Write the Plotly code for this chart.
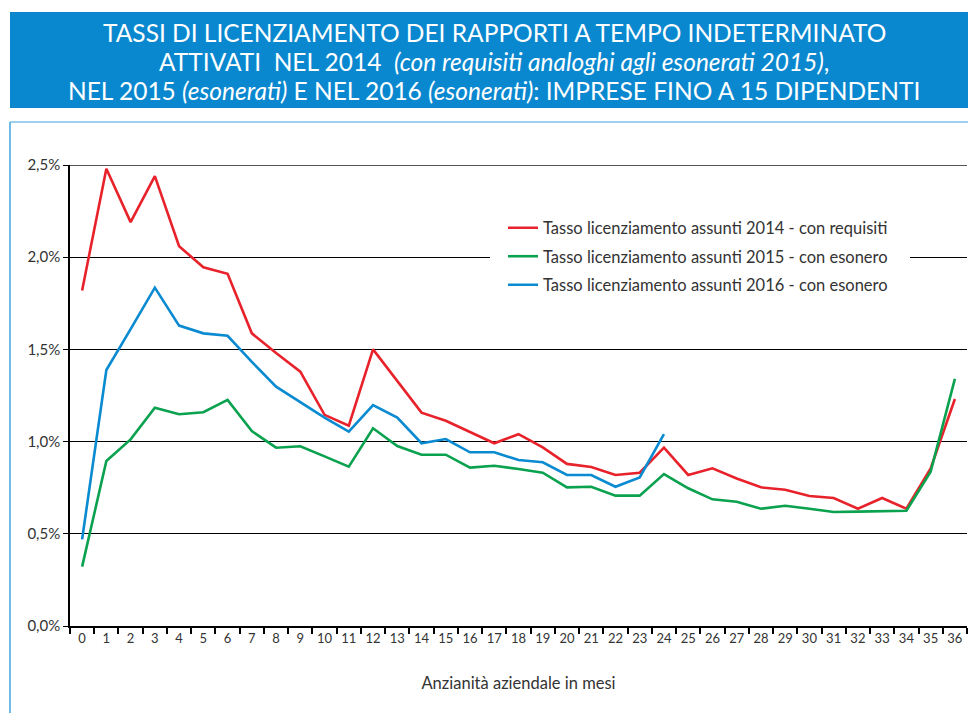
import plotly.graph_objects as go

months = [str(i) for i in range(37)]

tasso_2014 = [1.82, 2.48, 2.19, 2.44, 2.06, 1.945, 1.91, 1.587, 1.48, 1.379, 1.145, 1.086,
              1.50, 1.33, 1.157, 1.113, 1.054, 0.991, 1.04, 0.969, 0.879, 0.862, 0.819, 0.831,
              0.967, 0.819, 0.855, 0.80, 0.752, 0.739, 0.705, 0.694, 0.636, 0.694, 0.636, 0.855, 1.231]

tasso_2015 = [0.322, 0.895, 1.012, 1.184, 1.148, 1.159, 1.226, 1.057, 0.967, 0.975, 0.92, 0.864,
              1.072, 0.976, 0.929, 0.929, 0.859, 0.869, 0.851, 0.831, 0.752, 0.755, 0.707, 0.707,
              0.824, 0.747, 0.687, 0.674, 0.636, 0.652, 0.636, 0.618, 0.62, 0.622, 0.625, 0.837, 1.34]

tasso_2016 = [0.47, 1.388, 1.61, 1.835, 1.629, 1.587, 1.574, 1.432, 1.298, 1.215, 1.13, 1.054,
              1.198, 1.13, 0.991, 1.014, 0.942, 0.942, 0.90, 0.888, 0.819, 0.819, 0.755, 0.806, 1.04]

series_names = ["Tasso licenziamento assunti 2014 - con requisiti",
                "Tasso licenziamento assunti 2015 - con esonero",
                "Tasso licenziamento assunti 2016 - con esonero"]
colors = ["#E8222B", "#0AA14F", "#0A8AD1"]

y_ticks = [0, 0.5, 1.0, 1.5, 2.0, 2.5]
y_ticktext = [f"{v:.1f}%".replace(".", ",") for v in y_ticks]

FONT = "Lato"
OFF = 8  # page body margin
W, H = 976 - OFF, 713 - OFF
L, R, T, B = 70 - OFF, 9, 165 - OFF, 87
PW, PH = W - L - R, H - T - B


def px_x(px):
    return (px - OFF - L) / PW


def px_y(py):
    return (H - B - (py - OFF)) / PH


legend_ids = ["legend", "legend2", "legend3"]
legend_rows = [228, 256.5, 285]

fig = go.Figure()
for name, vals, col, lid in zip(series_names, [tasso_2014, tasso_2015, tasso_2016], colors, legend_ids):
    fig.add_trace(go.Scatter(x=months[:len(vals)], y=vals, name=name, mode="lines",
                             line=dict(color=col, width=2.6), legend=lid))

title_lines = [
    "TASSI DI LICENZIAMENTO DEI RAPPORTI A TEMPO INDETERMINATO",
    "ATTIVATI  NEL 2014  <i>(con requisiti analoghi agli esonerati 2015)</i>,",
    "NEL 2015 <i>(esonerati)</i> E NEL 2016 <i>(esonerati)</i>: IMPRESE FINO A 15 DIPENDENTI",
]
title_y = [32, 61, 90]

shapes = [
    dict(type="rect", xref="paper", yref="paper", x0=px_x(10), x1=px_x(990), y0=px_y(108), y1=px_y(12),
         fillcolor="#0A88CF", line=dict(width=0), layer="below"),
    dict(type="line", xref="paper", yref="paper", x0=px_x(10), x1=px_x(990), y0=px_y(122), y1=px_y(122),
         line=dict(color="#7CC3EA", width=1.5)),
    dict(type="line", xref="paper", yref="paper", x0=px_x(10), x1=px_x(10), y0=px_y(122), y1=px_y(720),
         line=dict(color="#3FA6DF", width=1.5)),
    dict(type="line", xref="paper", yref="y", x0=0, x1=1, y0=2.5, y1=2.5,
         line=dict(color="#555555", width=2)),
    dict(type="rect", xref="paper", yref="paper", x0=px_x(490), x1=px_x(910), y0=px_y(272), y1=px_y(242),
         fillcolor="white", line=dict(width=0), layer="above"),
]

annotations = []
for txt, ty in zip(title_lines, title_y):
    annotations.append(dict(text=txt, xref="paper", yref="paper", x=px_x(494), y=px_y(ty),
                            xanchor="center", yanchor="middle", showarrow=False,
                            font=dict(family=FONT, size=24.5, color="white")))

legend_common = dict(xanchor="left", yanchor="middle", bgcolor="rgba(255,255,255,0)", borderwidth=0,
                     font=dict(family=FONT, size=16.5, color="#333333"), itemwidth=30)

fig.update_layout(
    width=W, height=H,
    margin=dict(l=L, r=R, t=T, b=B),
    paper_bgcolor="white", plot_bgcolor="white",
    font=dict(family=FONT, color="#333333", size=13),
    shapes=shapes,
    annotations=annotations,
    showlegend=True,
    legend=dict(x=px_x(503), y=px_y(legend_rows[0]), **legend_common),
    legend2=dict(x=px_x(503), y=px_y(legend_rows[1]), **legend_common),
    legend3=dict(x=px_x(503), y=px_y(legend_rows[2]), **legend_common),
    xaxis=dict(type="category", tickson="boundaries", ticks="outside", ticklen=6, tickwidth=1.5,
               tickcolor="black", showline=True, linecolor="black", linewidth=1.5, tickangle=0,
               showgrid=False, range=[-0.5, 36.5], tickfont=dict(size=13, color="#333333"),
               title=dict(text="Anzianità aziendale in mesi", font=dict(size=16.5, color="#333333"), standoff=32)),
    yaxis=dict(range=[0, 2.5], tickmode="array", tickvals=y_ticks, ticktext=y_ticktext,
               showgrid=True, gridcolor="black", gridwidth=1.2, showline=True, linecolor="black",
               linewidth=1.5, ticks="outside", ticklen=5, tickcolor="black",
               zeroline=False, tickfont=dict(size=15, color="#333333")),
)

fig.write_html("out.html")
